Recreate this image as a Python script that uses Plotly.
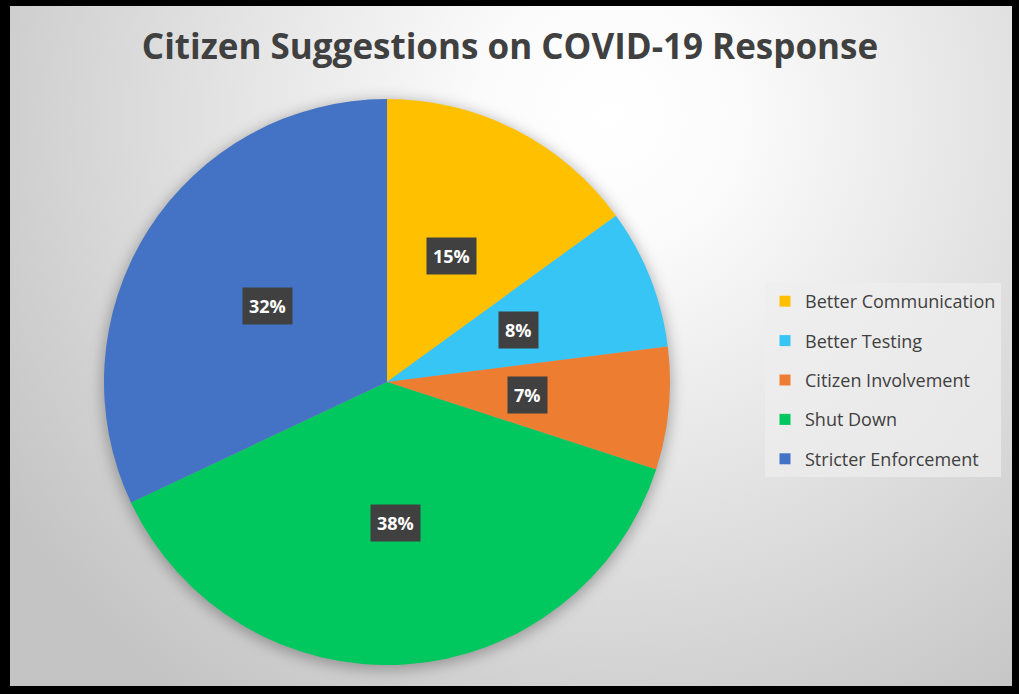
import math
import plotly.graph_objects as go

# ---- data ----
categories = ["Better Communication", "Better Testing", "Citizen Involvement", "Shut Down", "Stricter Enforcement"]
values = [15, 8, 7, 38, 32]
colors = ["#FFC000", "#36C5F5", "#ED7D31", "#00C85F", "#4472C4"]
title_text = "Citizen Suggestions on COVID-19 Response"

W, H = 1019, 694
# pie geometry (pixels)
pie_left, pie_right, pie_top, pie_bottom = 104, 670, 99, 665
cx_px = (pie_left + pie_right) / 2
cy_px = (pie_top + pie_bottom) / 2
R = (pie_right - pie_left) / 2

svg = (
    "data:image/svg+xml;utf8,"
    "<svg xmlns='http://www.w3.org/2000/svg' width='1002' height='680' viewBox='0 0 1002 680' preserveAspectRatio='none'>"
    "<defs><radialGradient id='g' cx='600' cy='110' r='720' gradientUnits='userSpaceOnUse'>"
    "<stop offset='0' stop-color='%23ffffff'/>"
    "<stop offset='0.18' stop-color='%23fbfbfb'/>"
    "<stop offset='1' stop-color='%23c4c4c4'/>"
    "</radialGradient>"
    "<filter id='b' x='-20%' y='-20%' width='140%' height='140%'><feGaussianBlur stdDeviation='7'/></filter></defs>"
    "<rect width='1002' height='680' fill='url(%23g)'/>"
    "<circle cx='" + str(cx_px - 10) + "' cy='" + str(cy_px - 6 + 3) + "' r='" + str(R + 2) + "' fill='%23000' fill-opacity='0.28' filter='url(%23b)'/>"
    "</svg>"
)

fig = go.Figure()
fig.add_trace(go.Pie(
    labels=categories,
    values=values,
    sort=False,
    direction="clockwise",
    rotation=0,
    marker=dict(colors=colors, line=dict(width=0)),
    textinfo="none",
    hoverinfo="label+percent",
    showlegend=False,
    domain=dict(x=[pie_left / W, pie_right / W], y=[1 - pie_bottom / H, 1 - pie_top / H]),
))

# legend entries via dummy traces (for spacing control)
for i, (c, col) in enumerate(zip(categories, colors)):
    fig.add_trace(go.Scatter(
        x=[None], y=[None], mode="markers", name=c,
        marker=dict(symbol="square", size=11, color=col),
        legendgroup="g%d" % i, showlegend=True, hoverinfo="skip",
    ))

# percentage labels
total = sum(values)
cum = 0
for v in values:
    mid = (cum + v / 2) / total * 2 * math.pi
    cum += v
    x_px = cx_px + 0.5 * R * math.sin(mid)
    y_px = cy_px - 0.5 * R * math.cos(mid)
    pct = "%d%%" % round(v / total * 100)
    fig.add_annotation(
        x=x_px / W, y=1 - y_px / H, xref="paper", yref="paper",
        xanchor="center", yanchor="middle",
        text="<b>" + pct + "</b>", showarrow=False,
        font=dict(family="Open Sans", size=18, color="#ffffff"),
        bgcolor="#404040", borderpad=6,
    )

fig.add_layout_image(dict(
    source=svg, xref="paper", yref="paper",
    x=10 / W, y=1 - 6 / H, sizex=1002 / W, sizey=680 / H,
    xanchor="left", yanchor="top", sizing="stretch", layer="below",
))

fig.update_layout(
    width=W, height=H,
    margin=dict(l=0, r=0, t=0, b=0),
    paper_bgcolor="#000000",
    plot_bgcolor="rgba(0,0,0,0)",
    xaxis=dict(visible=False), yaxis=dict(visible=False),
    title=dict(
        text="<b>" + title_text + "</b>",
        x=510 / W, xanchor="center", y=1 - 47 / H, yanchor="middle",
        font=dict(family="Open Sans", size=35, color="#404040"),
    ),
    legend=dict(
        x=765 / W, y=1 - 283 / H, xanchor="left", yanchor="top",
        bgcolor="rgba(238,238,238,0.7)", borderwidth=0,
        font=dict(family="Open Sans", size=18, color="#404040"),
        traceorder="grouped", tracegroupgap=13, itemwidth=30,
    ),
)

fig.write_html("out.html")
